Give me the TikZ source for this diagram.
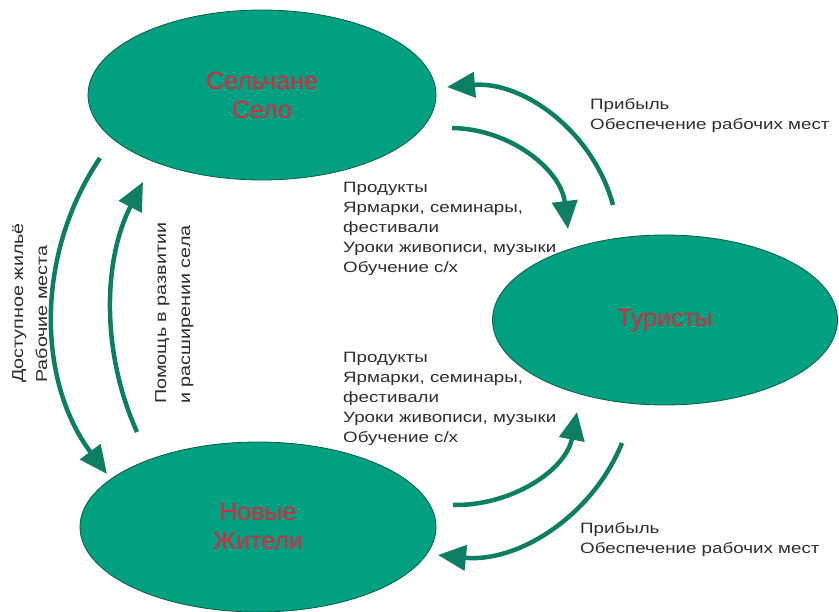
\documentclass[tikz,border=0pt]{standalone}
\usepackage{fontspec}
\setmainfont{Liberation Sans}
\newfontfamily\notefont{Liberation Sans}[FakeStretch=1.25]
\newfontfamily\titlefont{Liberation Sans}
\usetikzlibrary{shapes.geometric,arrows.meta}
\definecolor{groupgreen}{RGB}{0,160,128}
\definecolor{rimgreen}{RGB}{10,92,72}
\definecolor{flowgreen}{RGB}{12,126,98}
\definecolor{titlered}{RGB}{226,36,62}
\definecolor{notegray}{RGB}{45,45,45}
\begin{document}
\begin{tikzpicture}[x=1pt, y=-1pt,
    group/.style={ellipse, draw=rimgreen, line width=0.8pt, fill=groupgreen, inner sep=0pt,
        text=titlered, align=center, font=\titlefont\fontsize{25}{29}\selectfont},
    note/.style={inner sep=0pt, text=notegray, align=left, font=\notefont\fontsize{15}{20}\selectfont},
    sidenote/.style={note, rotate=90, anchor=north west, font=\notefont\fontsize{15.8}{24}\selectfont},
    flow/.style={draw=flowgreen, line width=4.5pt, -{Triangle[length=28pt,width=25pt]}}]
        \useasboundingbox (0,0) rectangle (839,612);

        % Nodes
        \node (village) [group, minimum width=348pt, minimum height=170pt] at (262, 95) {Сельчане\\Село};
        \node (tourists) [group, minimum width=345pt, minimum height=170pt] at (665, 320) {Туристы};
        \node (residents) [group, minimum width=356pt, minimum height=170pt] at (258, 527) {Новые\\Жители};

        % Labels
        \node (housing) [sidenote] at (12, 383) {Доступное жильё\\Рабочие места};
        \node (help) [sidenote] at (155, 404) {Помощь в развитии\\и расширении села};
        \node (profit1) [note, anchor=north west] at (590, 98) {Прибыль\\Обеспечение рабочих мест};
        \node (goods1) [note, anchor=north west] at (343, 182) {Продукты\\Ярмарки, семинары,\\фестивали\\Уроки живописи, музыки\\Обучение с/х};
        \node (goods2) [note, anchor=north west] at (343, 352) {Продукты\\Ярмарки, семинары,\\фестивали\\Уроки живописи, музыки\\Обучение с/х};
        \node (profit2) [note, anchor=north west] at (580, 522) {Прибыль\\Обеспечение рабочих мест};

        % Arrow ends
        \coordinate (v-out) at (100, 158);
        \coordinate (r-in) at (107, 474);
        \coordinate (r-out) at (137, 432);
        \coordinate (v-in) at (143, 182);
        \coordinate (t-out1) at (613, 205);
        \coordinate (v-in2) at (447, 87);
        \coordinate (v-out2) at (452, 128);
        \coordinate (t-in1) at (568, 229);
        \coordinate (r-out2) at (453, 505);
        \coordinate (t-in2) at (577, 412);
        \coordinate (t-out2) at (622, 443);
        \coordinate (r-in2) at (438, 555);

        % Edges
        \draw[flow] (v-out) .. controls (35, 254) and (37, 381) .. (r-in);
        \draw[flow] (r-out) .. controls (101, 352) and (103, 260) .. (v-in);
        \draw[flow] (t-out1) .. controls (593, 131) and (523, 81) .. (v-in2);
        \draw[flow] (v-out2) .. controls (511, 129) and (561, 170) .. (t-in1);
        \draw[flow] (r-out2) .. controls (512, 506) and (566, 470) .. (t-in2);
        \draw[flow] (t-out2) .. controls (592, 517) and (517, 563) .. (r-in2);
    \end{tikzpicture}
\end{document}
